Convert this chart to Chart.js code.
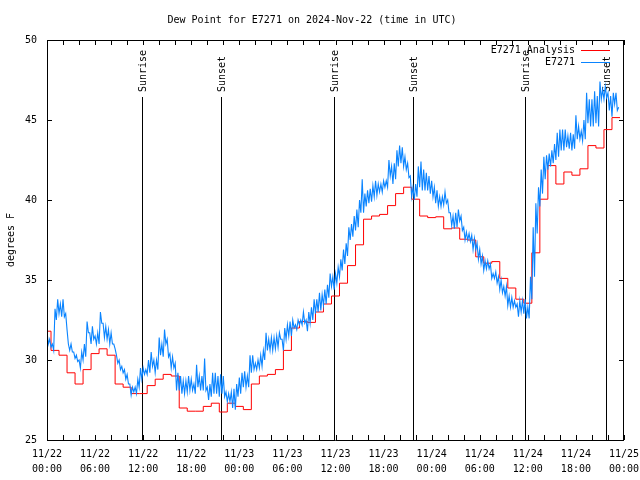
<!DOCTYPE html>
<html>
<head>
<meta charset="utf-8">
<title>Dew Point for E7271</title>
<script src="https://cdn.jsdelivr.net/npm/chart.js@4.4.1/dist/chart.umd.min.js"></script>
<style>
  html, body { margin: 0; padding: 0; background: #fff; }
  #dewChart { display: block; }
</style>
</head>
<body>
<canvas id="dewChart" width="640" height="480"></canvas>
<script>
// x = hours since 2024-11-22 00:00 UTC
const tickLabels = [
  ['11/22', '00:00'], ['11/22', '06:00'], ['11/22', '12:00'], ['11/22', '18:00'],
  ['11/23', '00:00'], ['11/23', '06:00'], ['11/23', '12:00'], ['11/23', '18:00'],
  ['11/24', '00:00'], ['11/24', '06:00'], ['11/24', '12:00'], ['11/24', '18:00'],
  ['11/25', '00:00']
];

// sunrise / sunset markers (hours)
const sunTimes = [11.9, 21.7, 35.85, 45.7, 59.7, 69.7];
const sunLabels = ['Sunrise', 'Sunset', 'Sunrise', 'Sunset', 'Sunrise', 'Sunset'];

// analysis: hourly values, first one starts at -0.5 h
const analysisStart = -0.5;
const analysis = [
  31.8, 30.6, 30.3, 29.2, 28.5, 29.4, 30.4, 30.7, 30.3, 28.5, 28.3, 27.9,
  27.9, 28.4, 28.8, 29.1, 29.0, 27.0, 26.8, 26.8, 27.1, 27.3, 26.75, 27.3,
  27.1, 26.9, 28.5, 29.0, 29.1, 29.4, 30.6, 32.0, 32.4, 32.35, 33.0, 33.5,
  34.0, 34.8, 35.9, 37.2, 38.8, 39.0, 39.1, 39.65, 40.4, 40.8, 40.05, 39.0,
  38.9, 38.95, 38.2, 38.25, 37.55, 37.5, 36.45, 36.05, 36.15, 35.1, 34.5, 33.8,
  33.55, 36.7, 40.05, 42.15, 41.0, 41.75, 41.55, 41.95, 43.4, 43.25, 44.4, 45.15,
  45.15
];

// station obs, every 10 minutes from 00:00
const dewStep = 1 / 6;
const dewpoint = [
  31.8,31.0, 31.3,30.8, 31.0,30.6, 33.2,32.5, 33.8,32.9, 33.5,32.7,
  33.8,32.7, 32.9,31.9, 31.0,30.6, 31.0,30.5, 30.5,30.1, 30.3,29.9,
  30.0,29.5, 30.5,30.0, 31.0,30.2, 32.4,31.7, 31.7,31.0, 32.1,31.3,
  31.5,31.0, 31.7,31.0, 33.0,32.3, 32.3,31.4, 32.1,31.3, 31.9,31.0,
  31.7,31.0, 31.0,30.7, 30.3,29.8, 30.0,29.4, 29.6,29.2, 29.4,28.8,
  29.1,28.5, 28.5,27.8, 28.3,28.0, 28.3,27.9, 28.8,28.3, 29.5,28.8,
  29.5,29.1, 29.4,29.1, 30.0,29.2, 30.5,29.6, 30.0,29.2, 30.0,29.4,
  31.4,30.3, 31.0,30.2, 31.9,31.0, 31.3,30.2, 30.4,29.5, 30.2,29.5,
  29.8,28.1, 29.2,28.1, 29.0,27.9, 28.7,27.9, 28.7,28.0, 29.0,28.1,
  28.8,28.1, 28.5,27.9, 29.7,28.3, 29.0,28.1, 29.0,28.1, 30.1,28.1,
  28.3,27.5, 28.5,27.7, 29.2,27.9, 29.2,27.9, 29.0,27.7, 29.1,27.9,
  29.0,27.7, 28.0,27.4, 27.9,27.4, 28.0,27.0, 28.2,26.9, 28.5,27.7,
  28.9,27.9, 29.2,28.3, 29.3,28.3, 29.0,28.3, 30.3,29.2, 30.3,29.4,
  29.8,29.4, 30.0,29.5, 30.3,29.6, 30.6,30.0, 31.7,30.6, 31.3,30.6,
  31.4,30.6, 31.4,30.7, 31.5,30.8, 31.7,31.3, 31.3,30.6, 32.0,31.3,
  32.2,31.5, 32.4,31.5, 32.5,32.0, 32.2,31.9, 32.5,32.2, 32.5,32.2,
  33.0,32.3, 32.5,31.8, 33.0,32.3, 33.3,32.5, 33.8,32.9, 33.8,33.0,
  34.2,33.1, 34.1,33.4, 34.4,33.5, 34.7,33.9, 35.4,34.6, 35.2,34.4,
  35.4,34.8, 35.8,35.2, 36.3,35.6, 36.9,36.0, 37.3,36.5, 38.3,37.5,
  38.5,37.7, 39.0,38.1, 39.4,38.3, 40.0,39.2, 41.3,39.2, 40.4,39.6,
  40.6,39.8, 40.7,39.9, 40.9,40.2, 41.2,40.3, 41.0,40.5, 41.0,40.5,
  41.2,40.8, 41.2,40.8, 42.5,41.5, 42.1,41.0, 42.3,41.3, 43.1,42.1,
  43.4,42.3, 43.3,42.1, 42.7,41.9, 42.3,41.4, 41.5,40.2, 40.8,40.0,
  41.0,40.2, 42.1,40.8, 42.4,40.6, 41.9,40.6, 41.7,40.6, 41.5,40.4,
  41.2,40.2, 40.8,39.8, 40.6,39.6, 40.2,39.6, 40.2,39.7, 40.5,39.8,
  40.0,39.2, 39.2,38.4, 39.0,38.2, 39.2,38.3, 39.4,38.7, 39.0,38.1,
  38.3,37.5, 38.0,37.5, 37.9,37.4, 37.8,36.9, 37.6,36.9, 37.3,36.3,
  36.9,36.0, 36.5,35.6, 36.2,35.7, 36.2,35.7, 36.0,35.1, 35.4,35.1,
  35.5,34.8, 35.2,34.4, 35.0,34.2, 34.6,34.0, 34.6,33.4, 34.0,33.3,
  33.9,33.3, 33.7,33.3, 33.5,32.7, 33.7,33.0, 33.7,32.9, 33.8,32.6,
  33.3,32.6, 35.2,33.8, 38.3,35.2, 39.8,37.9, 40.8,39.6, 41.9,40.4,
  42.7,41.3, 42.8,41.9, 42.9,42.1, 43.1,42.3, 43.5,42.5, 44.2,42.7,
  44.4,43.1, 44.4,43.1, 44.4,43.3, 44.0,43.2, 44.2,43.1, 44.1,43.2,
  45.3,43.8, 44.6,43.8, 44.3,43.7, 45.0,43.8, 46.7,44.8, 46.3,44.6,
  46.3,44.6, 46.8,44.8, 46.5,44.6, 47.4,46.3, 46.9,46.3, 47.1,46.4,
  46.7,45.6, 46.5,45.2, 46.7,46.0, 46.7,45.6, 45.8
];

const FONT = '"DejaVu Sans Mono", "Liberation Mono", monospace';
const RED = '#ff0000';
const BLUE = '#0a84ff';

const analysisPts = analysis.map((v, i) => ({ x: analysisStart + i, y: v }));
const dewPts = dewpoint.map((v, i) => ({ x: i * dewStep, y: v }));

// gnuplot-like frame, inward ticks, sun markers and legend
const gnuplotLook = {
  id: 'gnuplotLook',
  beforeDatasetsDraw(chart) {
    const { ctx, chartArea: a, scales: { x } } = chart;
    ctx.save();
    ctx.strokeStyle = '#000';
    ctx.lineWidth = 1;
    ctx.fillStyle = '#000';
    ctx.font = '10px ' + FONT;
    sunTimes.forEach((t, i) => {
      const px = Math.round(x.getPixelForValue(t)) + 0.5;
      ctx.beginPath();
      ctx.moveTo(px, 97);
      ctx.lineTo(px, a.bottom);
      ctx.stroke();
      ctx.save();
      ctx.translate(px + 1, 92);
      ctx.rotate(-Math.PI / 2);
      ctx.textAlign = 'left';
      ctx.textBaseline = 'middle';
      ctx.fillText(sunLabels[i], 0, 0);
      ctx.restore();
    });
    ctx.restore();
  },
  afterDraw(chart) {
    const { ctx, chartArea: a, scales: { x, y } } = chart;
    ctx.save();
    ctx.strokeStyle = '#000';
    ctx.lineWidth = 1;
    ctx.beginPath();
    ctx.rect(a.left + 0.5, a.top + 0.5, a.right - a.left - 1, a.bottom - a.top);
    ctx.stroke();

    ctx.beginPath();
    for (let h = 0; h <= 72; h += 2) {
      const px = Math.round(x.getPixelForValue(h)) + 0.5;
      ctx.moveTo(px, a.bottom);
      ctx.lineTo(px, a.bottom - 5);
      ctx.moveTo(px, a.top);
      ctx.lineTo(px, a.top + 5);
    }
    for (let v = 25; v <= 50; v += 5) {
      const py = Math.round(y.getPixelForValue(v)) + 0.5;
      ctx.moveTo(a.left, py);
      ctx.lineTo(a.left + 5, py);
      ctx.moveTo(a.right, py);
      ctx.lineTo(a.right - 5, py);
    }
    ctx.stroke();

    // legend, top right inside the plot
    ctx.font = '10px ' + FONT;
    ctx.fillStyle = '#000';
    ctx.textAlign = 'right';
    ctx.textBaseline = 'middle';
    const rows = [['E7271 Analysis', RED, 50], ['E7271', BLUE, 62]];
    rows.forEach(([txt, col, yy]) => {
      ctx.fillText(txt, 575, yy);
      ctx.strokeStyle = col;
      ctx.beginPath();
      ctx.moveTo(581, yy + 0.5);
      ctx.lineTo(610, yy + 0.5);
      ctx.stroke();
    });
    ctx.restore();
  }
};

new Chart(document.getElementById('dewChart'), {
  type: 'line',
  data: {
    datasets: [
      {
        label: 'E7271 Analysis',
        data: analysisPts,
        borderColor: RED,
        borderWidth: 1,
        stepped: true,
        pointRadius: 0,
        order: 1
      },
      {
        label: 'E7271',
        data: dewPts,
        borderColor: BLUE,
        borderWidth: 1.1,
        pointRadius: 0,
        tension: 0,
        order: 0
      }
    ]
  },
  options: {
    responsive: false,
    animation: false,
    devicePixelRatio: 1,
    layout: { padding: { left: 0, right: 16, top: 0, bottom: 0 } },
    plugins: {
      legend: { display: false },
      tooltip: { enabled: false },
      title: {
        display: true,
        text: 'Dew Point for E7271 on 2024-Nov-22 (time in UTC)',
        color: '#000',
        font: { family: FONT, size: 10, weight: 'normal', lineHeight: 1.2 },
        padding: { top: 14, bottom: 14 }
      }
    },
    scales: {
      x: {
        type: 'linear',
        min: 0,
        max: 72,
        grid: { display: false, drawTicks: false },
        border: { display: false },
        ticks: {
          stepSize: 6,
          autoSkip: false,
          maxRotation: 0,
          padding: 7,
          color: '#000',
          font: { family: FONT, size: 10, lineHeight: 1.5 },
          callback: (v) => tickLabels[Math.round(v / 6)]
        },
        afterFit: (s) => {
          s.height = 40;
          s.paddingLeft = 0;
          s.paddingRight = 0;
        }
      },
      y: {
        min: 25,
        max: 50,
        grid: { display: false, drawTicks: false },
        border: { display: false },
        ticks: {
          stepSize: 5,
          padding: 10,
          color: '#000',
          font: { family: FONT, size: 10 }
        },
        title: {
          display: true,
          text: 'degrees F',
          color: '#000',
          font: { family: FONT, size: 10 },
          padding: { top: 5, bottom: 0 }
        },
        afterFit: (s) => {
          s.width = 47;
          s.paddingTop = 0;
          s.paddingBottom = 0;
        }
      }
    }
  },
  plugins: [gnuplotLook]
});
</script>
</body>
</html>
